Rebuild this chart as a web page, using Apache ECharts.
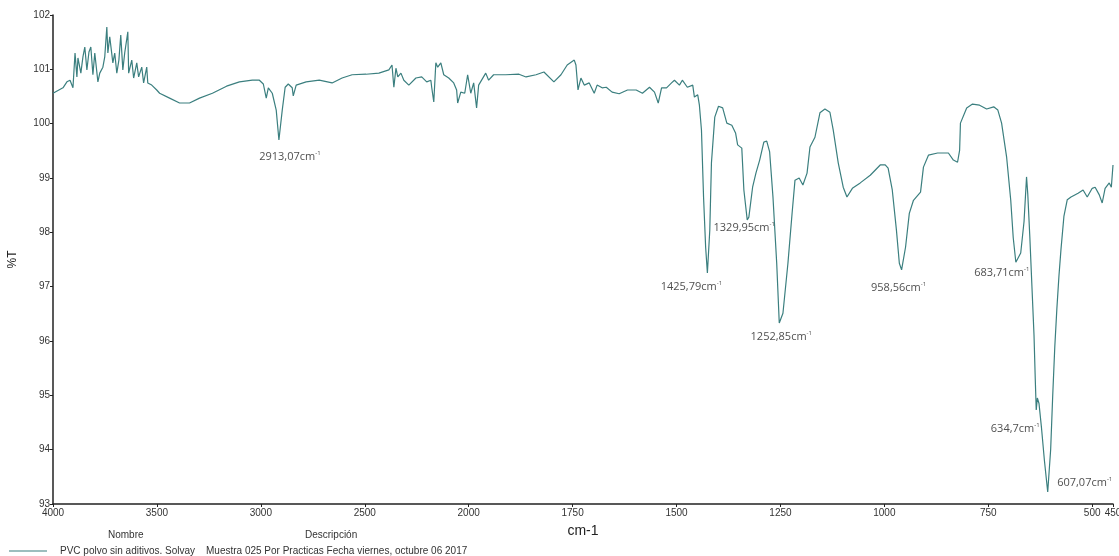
<!DOCTYPE html>
<html>
<head>
<meta charset="utf-8">
<title>PVC polvo sin aditivos</title>
<script src="https://cdn.jsdelivr.net/npm/echarts@6/dist/echarts.min.js"></script>
<style>
  html, body { margin: 0; padding: 0; background: #fff; }
  #main { width: 1119px; height: 556px; }
</style>
</head>
<body>
<div id="main"></div>
<script>
// espectro: numero de onda (cm-1) y %T
const wavenumber = [
  4000, 3952, 3933, 3918, 3904, 3894, 3885, 3880, 3866, 3856, 3847, 3837, 3827, 3818, 3808, 3799,
  3784, 3775, 3760, 3751, 3741, 3736, 3727, 3712, 3703, 3693, 3683, 3674, 3664, 3655, 3640, 3636,
  3621, 3612, 3597, 3588, 3573, 3564, 3549, 3544, 3525, 3501, 3487, 3439, 3391, 3343, 3295, 3233,
  3165, 3103, 3041, 3007, 2988, 2974, 2964, 2945, 2926, 2913.07, 2897, 2883, 2868, 2849, 2844, 2830,
  2782, 2719, 2657, 2609, 2561, 2494, 2432, 2384, 2369, 2360, 2350, 2341, 2326, 2312, 2288, 2254,
  2226, 2202, 2182, 2178, 2168, 2158, 2149, 2134, 2120, 2096, 2072, 2058, 2053, 2038, 2019, 2005,
  1995, 1988, 1981, 1976, 1959, 1952, 1940, 1911, 1879, 1862, 1838, 1819, 1795, 1778, 1763, 1746,
  1742, 1737, 1730, 1722, 1710, 1698, 1691, 1679, 1669, 1655, 1638, 1618, 1597, 1582, 1565, 1553,
  1544, 1536, 1524, 1512, 1505, 1493, 1486, 1474, 1461, 1457, 1449, 1445, 1440, 1435, 1430, 1425.79,
  1420, 1416, 1408, 1399, 1389, 1379, 1367, 1358, 1353, 1343, 1338, 1329.95, 1326, 1317, 1309, 1300,
  1290, 1283, 1276, 1268, 1259, 1252.85, 1244, 1232, 1222, 1215, 1205, 1196, 1186, 1179, 1167, 1155,
  1143, 1131, 1123, 1111, 1099, 1090, 1077, 1058, 1034, 1010, 998, 991, 981, 971, 964, 958.56,
  949, 940, 930, 913, 906, 894, 872, 846, 834, 824, 819, 817, 802, 788, 771, 754,
  737, 727, 718, 706, 696, 690, 683.71, 672, 664, 658, 655, 650, 645, 640, 637, 634.7,
  632, 628, 622, 615, 607.07, 600, 595, 590, 585, 580, 575, 568, 560, 551, 534, 522,
  512, 500, 493, 483, 476, 469, 459, 454, 450
];
const transmittance = [
  100.56, 100.66, 100.77, 100.80, 100.66, 101.30, 100.86, 101.21, 100.93, 101.23, 101.41, 100.99, 101.32, 101.41, 100.90, 101.30,
  100.77, 100.93, 101.04, 101.23, 101.78, 101.30, 101.60, 101.12, 101.30, 100.93, 101.17, 101.63, 100.99, 101.30, 101.69, 100.93,
  101.17, 100.84, 101.12, 100.86, 101.04, 100.75, 101.04, 100.75, 100.71, 100.62, 100.56, 100.47, 100.38, 100.38, 100.47, 100.56,
  100.69, 100.77, 100.80, 100.80, 100.73, 100.47, 100.66, 100.56, 100.25, 99.70, 100.25, 100.67, 100.73, 100.66, 100.51, 100.71,
  100.77, 100.80, 100.75, 100.84, 100.90, 100.91, 100.93, 100.99, 101.08, 100.67, 101.02, 100.86, 100.93, 100.80, 100.71, 100.84,
  100.86, 100.77, 100.80, 100.67, 100.40, 101.12, 101.04, 101.12, 100.90, 100.84, 100.75, 100.62, 100.38, 100.58, 100.56, 100.90,
  100.56, 100.75, 100.29, 100.71, 100.93, 100.80, 100.90, 100.90, 100.91, 100.86, 100.90, 100.95, 100.77, 100.90, 101.08, 101.17,
  101.08, 100.62, 100.84, 100.71, 100.75, 100.56, 100.71, 100.66, 100.67, 100.58, 100.55, 100.62, 100.62, 100.56, 100.67, 100.58,
  100.38, 100.66, 100.66, 100.75, 100.80, 100.71, 100.80, 100.67, 100.71, 100.49, 100.53, 100.34, 99.88, 98.65, 97.73, 97.25,
  98.04, 99.28, 100.12, 100.32, 100.29, 100.01, 99.97, 99.83, 99.61, 99.55, 98.78, 98.23, 98.28, 98.83, 99.09, 99.33,
  99.66, 99.68, 99.48, 98.65, 97.43, 96.33, 96.51, 97.43, 98.35, 98.96, 99.00, 98.87, 99.09, 99.57, 99.75, 100.20,
  100.27, 100.21, 99.88, 99.28, 98.83, 98.65, 98.81, 98.91, 99.05, 99.24, 99.24, 99.18, 98.78, 98.04, 97.43, 97.31,
  97.73, 98.35, 98.59, 98.74, 99.20, 99.42, 99.46, 99.46, 99.33, 99.29, 99.51, 100.01, 100.29, 100.36, 100.34, 100.27,
  100.31, 100.25, 100.01, 99.39, 98.59, 97.90, 97.45, 97.62, 98.20, 99.02, 98.70, 97.90, 97.00, 96.10, 95.30, 94.73,
  94.95, 94.85, 94.40, 93.80, 93.22, 94.00, 95.00, 95.90, 96.60, 97.20, 97.70, 98.30, 98.60, 98.65, 98.72, 98.78,
  98.65, 98.81, 98.83, 98.69, 98.54, 98.81, 98.91, 98.83, 99.24
];

// picos marcados
const peakWavenumber = [2913.07, 1425.79, 1329.95, 1252.85, 958.56, 683.71, 634.7, 607.07];
const peakTransmittance = [99.70, 97.25, 98.23, 96.33, 97.31, 97.45, 94.73, 93.22];
const peakText = ['2913,07', '1425,79', '1329,95', '1252,85', '958,56', '683,71', '634,7', '607,07'];
// desplazamiento de cada etiqueta respecto al pico (px)
const peakOffsets = [[11, 17], [-16, 14], [-3, 8], [2, 14], [-3, 18], [-14, 11], [-21, 19], [37, -9]];

const seriesName = 'PVC polvo sin aditivos. Solvay';
const seriesDesc = 'Muestra 025 Por Practicas Fecha viernes, octubre 06 2017';

// eje x con dos escalas: por debajo de 2000 cm-1 el eje se estira al doble
function toAxis(w) {
  return w >= 2000 ? 4000 - w : 2000 + 2 * (2000 - w);
}
function fromAxis(u) {
  return u <= 2000 ? 4000 - u : 2000 - (u - 2000) / 2;
}

const lineData = wavenumber.map((w, i) => [toAxis(w), transmittance[i]]);
const peakData = peakWavenumber.map((w, i) => ({
  value: [toAxis(w), peakTransmittance[i]],
  label: { offset: peakOffsets[i], formatter: '{n|' + peakText[i] + 'cm}{s|-1}' }
}));

const chart = echarts.init(document.getElementById('main'));
chart.setOption({
  animation: false,
  backgroundColor: '#fff',
  grid: { left: 53, right: 6, top: 15, bottom: 52, outerBoundsMode: 'none', containLabel: false },
  xAxis: {
    type: 'value',
    min: 0,
    max: 5100,
    interval: 500,
    name: 'cm-1',
    nameLocation: 'middle',
    nameGap: 20,
    nameTextStyle: { fontSize: 14, color: '#222', fontFamily: 'Liberation Sans' },
    splitLine: { show: false },
    axisLine: { lineStyle: { color: '#222', width: 1.5 } },
    axisTick: { length: 3, lineStyle: { color: '#222' } },
    axisLabel: {
      margin: 4,
      fontSize: 10,
      color: '#333',
      fontFamily: 'Liberation Sans Narrow, Liberation Sans',
      formatter: v => String(Math.round(fromAxis(v)))
    }
  },
  yAxis: {
    type: 'value',
    min: 93,
    max: 102,
    interval: 1,
    name: '%T',
    nameLocation: 'middle',
    nameGap: 34,
    nameTextStyle: { fontSize: 12, color: '#222', fontFamily: 'Liberation Sans' },
    splitLine: { show: false },
    axisLine: { show: true, lineStyle: { color: '#222', width: 1.5 } },
    axisTick: { show: true, length: 3, lineStyle: { color: '#222' } },
    axisLabel: { margin: 3, fontSize: 10, color: '#333', fontFamily: 'Liberation Sans Narrow, Liberation Sans' }
  },
  legend: {
    left: 4,
    top: 541,
    itemWidth: 38,
    itemHeight: 1,
    icon: 'rect',
    data: [seriesName],
    formatter: name => '{a|' + name + '}{b|' + seriesDesc + '}',
    textStyle: {
      padding: [0, 0, 0, 8],
      rich: {
        a: { width: 146, fontSize: 10, color: '#333', fontFamily: 'Liberation Sans Narrow, Liberation Sans' },
        b: { fontSize: 10, color: '#333', fontFamily: 'Liberation Sans Narrow, Liberation Sans' }
      }
    }
  },
  graphic: [
    { type: 'text', left: 108, top: 530, style: { text: 'Nombre', fontSize: 10, fill: '#333', fontFamily: 'Liberation Sans Narrow, Liberation Sans' } },
    { type: 'text', left: 305, top: 530, style: { text: 'Descripción', fontSize: 10, fill: '#333', fontFamily: 'Liberation Sans Narrow, Liberation Sans' } }
  ],
  series: [
    {
      name: seriesName,
      type: 'line',
      data: lineData,
      showSymbol: false,
      symbol: 'none',
      lineStyle: { color: '#3b7f7f', width: 1.2 },
      itemStyle: { color: '#3b7f7f' }
    },
    {
      name: 'picos',
      type: 'scatter',
      data: peakData,
      symbolSize: 1,
      itemStyle: { color: 'rgba(0,0,0,0)' },
      label: {
        show: true,
        position: 'inside',
        rich: {
          n: { fontSize: 11, color: '#222', fontFamily: 'Open Sans' },
          s: { fontSize: 6, color: '#222', fontFamily: 'Open Sans', padding: [0, 0, 7, 0] }
        }
      }
    }
  ]
});
</script>
</body>
</html>
